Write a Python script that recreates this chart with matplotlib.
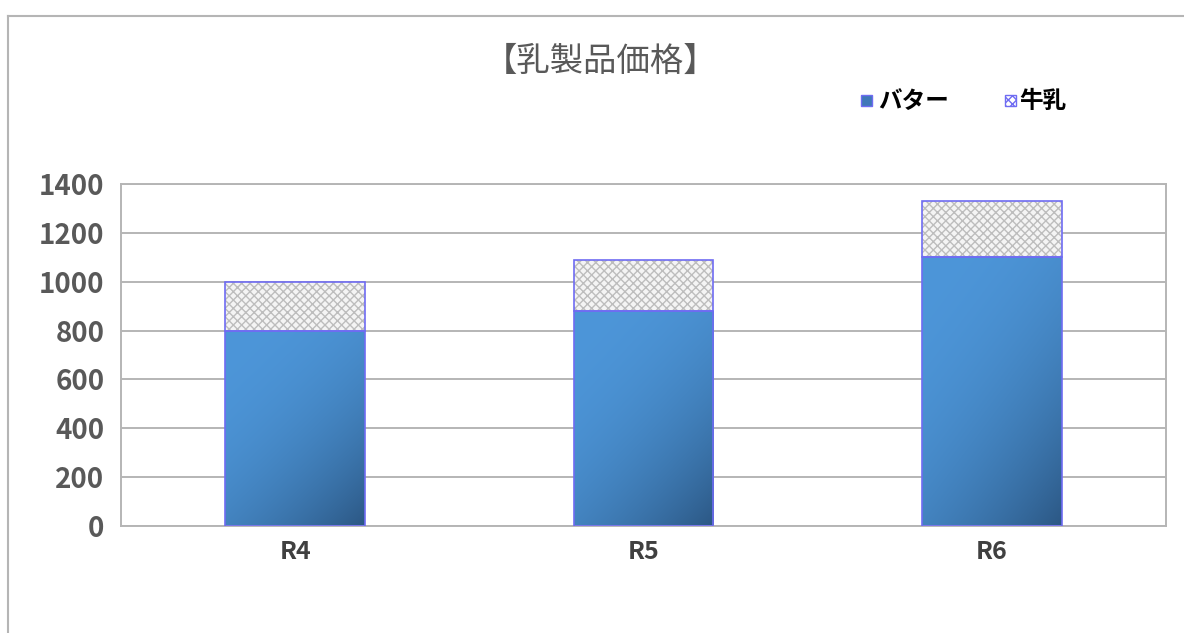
import numpy as np
import matplotlib.pyplot as plt
from matplotlib.lines import Line2D
from matplotlib.patches import Rectangle

plt.rcParams['font.family'] = ['Noto Sans CJK JP', 'DejaVu Sans']

# Data
categories = ["R4", "R5", "R6"]
butter = [800, 880, 1100]
milk = [200, 210, 230]
series_names = ["バター", "牛乳"]
yticks = [0, 200, 400, 600, 800, 1000, 1200, 1400]

W, H = 1184, 633
fig = plt.figure(figsize=(W / 100, H / 100), dpi=100)
ax = fig.add_axes([121 / W, 1 - 526 / H, (1166 - 121) / W, (526 - 184) / H])

x = np.arange(len(categories))
width = 0.4
edge = "#6f6cf2"

# gradient image for the butter bars (lighter top-left, darker bottom-right)
grad = np.zeros((60, 60, 3))
c_light = np.array([0x4d, 0x96, 0xd9]) / 255
c_dark = np.array([0x2c, 0x58, 0x85]) / 255
yy, xx = np.mgrid[0:1:60j, 0:1:60j]
t = np.clip(0.45 * xx + 0.65 * yy, 0, 1.1) ** 2.2
t = np.clip(t / t.max(), 0, 1)
for i in range(3):
    grad[..., i] = c_light[i] * (1 - t) + c_dark[i] * t

bars_b = ax.bar(x, butter, width, color="none", edgecolor=edge, linewidth=1.2, zorder=3)
for b in bars_b:
    x0, y0 = b.get_x(), b.get_y()
    im = ax.imshow(grad, extent=[x0, x0 + b.get_width(), y0, y0 + b.get_height()],
                   aspect="auto", origin="upper", zorder=2, interpolation="bilinear")
    im.set_clip_path(b)

ax.bar(x, milk, width, bottom=butter, color="#f4f4f4", edgecolor="#bdbdbd",
       hatch="xxxx", linewidth=0, zorder=2)
ax.bar(x, milk, width, bottom=butter, color="none", edgecolor=edge, linewidth=1.2, zorder=3)

ax.set_xlim(-0.5, 2.5)
ax.set_ylim(0, 1400)
ax.set_yticks(yticks)
ax.set_yticklabels([str(v) for v in yticks], fontsize=20, color="#595959", fontweight="bold")
ax.set_xticks(x)
ax.set_xticklabels(categories, fontsize=18, color="#404040", fontweight="bold")
ax.tick_params(length=0, pad=12)
ax.tick_params(axis="x", pad=10)
ax.grid(axis="y", color="#b5b5b5", linewidth=1.4, zorder=0)
ax.set_axisbelow(True)
for s in ax.spines.values():
    s.set_color("#b5b5b5")
    s.set_linewidth(1.4)

# title
fig.text(601 / W, 1 - 61 / H, "【乳製品価格】", ha="center", va="center",
         fontsize=24, color="#595959")

# legend
fig.patches.append(Rectangle((861 / W, 1 - 106 / H), 11 / W, 11 / H, transform=fig.transFigure,
                             facecolor="#3f78b8", edgecolor=edge, linewidth=1))
fig.text(878 / W, 1 - 101 / H, series_names[0], ha="left", va="center",
         fontsize=17, fontweight="bold", color="black")
fig.patches.append(Rectangle((1005 / W, 1 - 106 / H), 11 / W, 11 / H, transform=fig.transFigure,
                             facecolor="white", edgecolor=edge, hatch="xxxx", linewidth=1))
fig.text(1019 / W, 1 - 101 / H, series_names[1], ha="left", va="center",
         fontsize=17, fontweight="bold", color="black")

# outer frame (top and left edges)
fig.add_artist(Line2D([8 / W, 1], [1 - 16 / H, 1 - 16 / H], transform=fig.transFigure,
                      color="#b5b5b5", linewidth=1.5))
fig.add_artist(Line2D([8 / W, 8 / W], [1 - 16 / H, 0], transform=fig.transFigure,
                      color="#b5b5b5", linewidth=1.5))

fig.savefig("out.png", dpi=100)
